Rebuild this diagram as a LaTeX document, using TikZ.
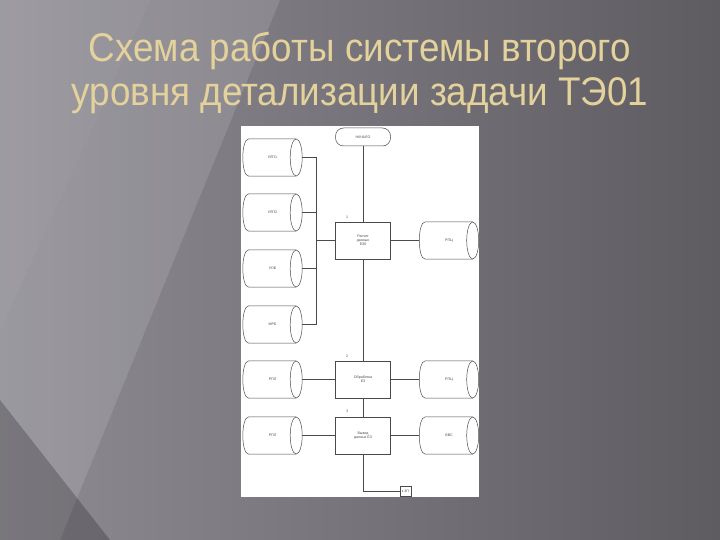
\documentclass[tikz,border=0pt]{standalone}
\usepackage{fontspec}
\setmainfont{Liberation Sans}
\newfontfamily\titlefont[FakeStretch=0.92]{Liberation Sans}
\usetikzlibrary{shapes.geometric}
\definecolor{bgL}{HTML}{8E8B93}
\definecolor{bgR}{HTML}{5E5B61}
\definecolor{titlec}{HTML}{E4D29C}
\definecolor{linec}{HTML}{4A4A4A}
\tikzset{
  tiny/.style={font=\fontsize{3.6}{4.2}\selectfont, text=linec},
  dbnode/.style={rectangle, draw=none, minimum width=59pt, minimum height=37pt, inner sep=0pt, tiny},
  cylline/.style={draw=linec, line width=0.5pt},
  procbox/.style={rectangle, draw=linec, line width=0.5pt, fill=white,
    minimum width=55pt, minimum height=37pt, inner sep=0pt, tiny, align=center},
  termbox/.style={rectangle, rounded corners=8pt, draw=linec, line width=0.5pt, fill=white,
    minimum width=55pt, minimum height=18pt, inner sep=0pt, tiny},
  conn/.style={draw=linec, line width=0.5pt},
  numlab/.style={tiny, inner sep=0pt},
  titletext/.style={text=titlec, font=\titlefont\fontsize{40}{44}\selectfont, anchor=base, inner sep=0pt}
}
\newcommand\dbcyl[4]{%
  \node[dbnode] (#1) at (#2,#3) {#4};
  \draw[cylline] ([xshift=-6pt]#1.north east) -- ([xshift=6pt]#1.north west)
     .. controls +(-8pt,0) and +(-8pt,0) .. ([xshift=6pt]#1.south west)
     -- ([xshift=-6pt]#1.south east);
  \draw[cylline] ([xshift=-6pt]#1.east) ellipse [x radius=6pt, y radius=18.5pt];
}
\begin{document}
\begin{tikzpicture}[x=1pt,y=-1pt]
\useasboundingbox (0,0) rectangle (720,540);
% background
\shade[left color=bgL, right color=bgR] (0,0) rectangle (720,540);
\fill[white, opacity=0.12] (150,0) -- (280,0) -- (60,540) -- (0,540) -- (0,330) -- cycle;
\fill[white, opacity=0.14] (0,0) -- (150,0) -- (0,330) -- cycle;
\fill[black, opacity=0.22] (0,400) -- (110,540) -- (0,540) -- cycle;
% title
\node[titletext] (title1) at (360,62) {Схема работы системы второго};
\node[titletext] (title2) at (360,106) {уровня детализации задачи ТЭ01};
% panel
\fill[white] (241,126) rectangle (479,497);
% nodes
\node[termbox] (start) at (363,137) {НАЧАЛО};
\node[procbox] (b1) at (363,240.5) {Расчет\\данных\\ЕЗ0};
\node[procbox] (b2) at (363,379.5) {Обработка\\ЕЗ};
\node[procbox] (b3) at (363,435.5) {Вывод\\данных ЕЗ};
\node[numlab] (n1) at (347,217) {1};
\node[numlab] (n2) at (347,356) {2};
\node[numlab] (n3) at (347,411) {3};
\dbcyl{c1}{272.5}{157.5}{УЛП1}
\dbcyl{c2}{272.5}{212.5}{УЛП2}
\dbcyl{c3}{272.5}{268.5}{УОБ}
\dbcyl{c4}{272.5}{324.5}{МРБ}
\dbcyl{c5}{272.5}{379.5}{РПЛ}
\dbcyl{c6}{272.5}{435.5}{РПЛ}
\dbcyl{r1}{449}{240.5}{РПЦ}
\dbcyl{r2}{449}{379.5}{РПЦ}
\dbcyl{r3}{449}{435.5}{ВВС}
\node[rectangle, draw=linec, line width=0.5pt, fill=white, minimum width=11pt, minimum height=10pt, inner sep=0pt, tiny] (out) at (405.5,491) {к 3П};
\coordinate (bus) at (316,0);
\coordinate (turn) at (363,491);
% connectors
\draw[conn] (start) -- (b1);
\draw[conn] (b1) -- (b2);
\draw[conn] (b2) -- (b3);
\draw[conn] (b3.south) -- (turn) -- (out.west);
\draw[conn] (c1.east) -- (c1.east -| bus) -- (c4.east -| bus) -- (c4.east);
\draw[conn] (c2.east) -- (c2.east -| bus);
\draw[conn] (c3.east) -- (c3.east -| bus);
\draw[conn] (b1.west -| bus) -- (b1.west);
\draw[conn] (b1.east) -- (r1.west);
\draw[conn] (c5.east) -- (b2.west);
\draw[conn] (b2.east) -- (r2.west);
\draw[conn] (c6.east) -- (b3.west);
\draw[conn] (b3.east) -- (r3.west);
\end{tikzpicture}
\end{document}
